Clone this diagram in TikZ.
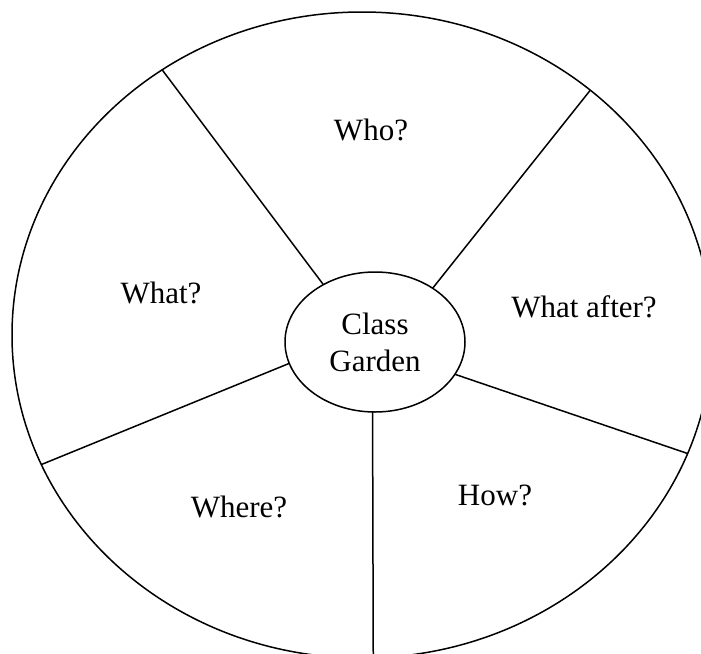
\documentclass[tikz,border=0pt]{standalone}
\usepackage{fontspec}
\setmainfont{Liberation Serif}
\usetikzlibrary{shapes.geometric}

\begin{document}
\begin{tikzpicture}[
  x=0.5pt, y=-0.5pt,
  rim/.style={ellipse, draw, line width=0.75pt, inner sep=0pt, outer sep=0pt,
              minimum width=350pt, minimum height=323pt},
  hub/.style={ellipse, draw, line width=0.75pt, inner sep=0pt, outer sep=0pt,
              minimum width=90pt, minimum height=70pt, align=center,
              font=\fontsize{15.5}{18.5}\selectfont},
  sector/.style={anchor=base, inner sep=0pt, font=\fontsize{15.5}{18.5}\selectfont},
  spoke/.style={line width=0.75pt}
]
  \clip (0,0) rectangle (701,653);

  \node[rim] (wheel) at (362,335) {};
  \node[hub] (garden) at (375,342) {Class\\Garden};

  \node[sector] (who)       at (371,140) {Who?};
  \node[sector] (what)      at (161,303) {What?};
  \node[sector] (whatafter) at (584,317) {What after?};
  \node[sector] (where)     at (239,517) {Where?};
  \node[sector] (how)       at (495,505) {How?};

  % spokes
  \draw[spoke] (garden.132.5) -- (wheel.127.4);
  \draw[spoke] (garden.43.5)  -- (wheel.47.3);
  \draw[spoke] (garden.194)   -- (wheel.202.5);
  \draw[spoke] (garden.338.3) -- (wheel.340.4);
  \draw[spoke] (garden.268)   -- (wheel.272);
\end{tikzpicture}
\end{document}
